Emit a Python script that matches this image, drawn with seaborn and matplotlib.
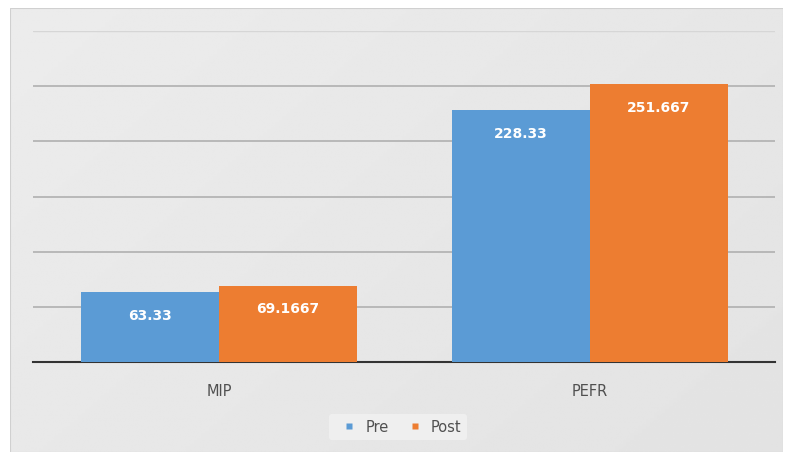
import matplotlib
matplotlib.use("Agg")
import matplotlib.pyplot as plt
from matplotlib.patches import Rectangle
from matplotlib.lines import Line2D
import seaborn as sns
import pandas as pd
import numpy as np

# Data
categories = ["MIP", "PEFR"]
pre_values = [63.33, 228.33]
post_values = [69.1667, 251.667]
pre_labels = ["63.33", "228.33"]
post_labels = ["69.1667", "251.667"]
series = ["Pre", "Post"]

df = pd.DataFrame({
    "category": categories * 2,
    "value": pre_values + post_values,
    "series": [series[0]] * len(categories) + [series[1]] * len(categories),
})

colors = {"Pre": "#5B9BD5", "Post": "#ED7D31"}

sns.set_style("white")
fig = plt.figure(figsize=(7.88, 4.57), dpi=100)
fig.patch.set_facecolor("white")

# grey chart panel behind the plot (light at top-left, a bit darker bottom-right)
bg = fig.add_axes([10 / 788, 5 / 457, 773 / 788, 444 / 457], zorder=-1)
bg.axis("off")
gx, gy = np.meshgrid(np.linspace(0, 1, 200), np.linspace(0, 1, 200))
shade = 0.925 - 0.035 * (0.6 * gx + 0.4 * gy)
bg.imshow(shade, cmap="gray", vmin=0, vmax=1, aspect="auto", extent=(0, 1, 0, 1))
bg.add_patch(Rectangle((0, 0), 1, 1, facecolor="none", edgecolor="#d0d0d0",
                       linewidth=0.8))

ax = fig.add_axes([0.0425, 0.2079, 0.9415, 0.7241])
ax.set_facecolor("none")
sns.barplot(data=df, x="category", y="value", hue="series", palette=colors,
            width=0.745, gap=0, saturation=1, ax=ax, legend=False,
            edgecolor="none", zorder=3)

ax.set_xlim(-0.5, 1.5)
ax.set_ylim(0, 300)
ax.set_yticks(range(50, 251, 50))
ax.yaxis.grid(True, color="#b0b0b0", linewidth=1.2)
ax.axhline(300, color="#d6d6d6", linewidth=1, zorder=0)
ax.set_axisbelow(True)
ax.tick_params(axis="y", left=False, labelleft=False)
ax.tick_params(axis="x", bottom=False, labelsize=10.5, labelcolor="#505050", pad=12)
ax.set_xlabel("")
ax.set_ylabel("")
for side in ["top", "right", "left"]:
    ax.spines[side].set_visible(False)
ax.spines["bottom"].set_color("#333333")
ax.spines["bottom"].set_linewidth(1.5)

for cont, labels in zip(ax.containers, [pre_labels, post_labels]):
    ax.bar_label(cont, labels=labels, padding=-22, color="white",
                 fontsize=10, fontweight="bold")

handles = [Line2D([0], [0], marker="s", linestyle="none", markersize=4,
                  markerfacecolor=colors[s], markeredgecolor="none", label=s)
           for s in series]
leg = fig.legend(handles=handles, loc="center", bbox_to_anchor=(398 / 788, 1 - 427 / 457),
                 ncol=2, frameon=True, fontsize=10.5, handletextpad=0.1,
                 columnspacing=0.8, borderpad=0.4)
leg.get_frame().set_facecolor("#f2f2f2")
leg.get_frame().set_edgecolor("none")
for t in leg.get_texts():
    t.set_color("#505050")

fig.savefig("out.png", dpi=100)
